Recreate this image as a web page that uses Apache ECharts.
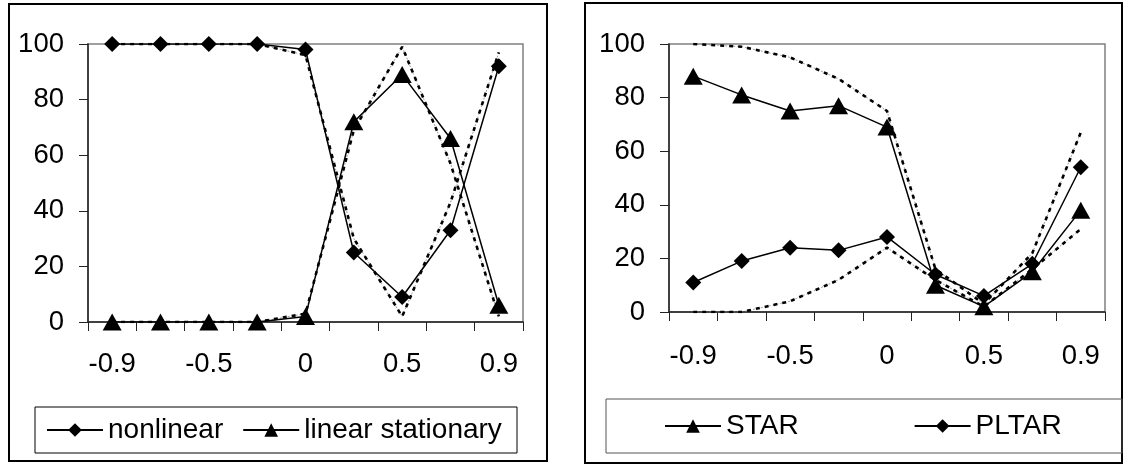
<!DOCTYPE html>
<html>
<head>
<meta charset="utf-8">
<script src="https://cdn.jsdelivr.net/npm/echarts@6/dist/echarts.min.js"></script>
<style>
  html, body { margin: 0; padding: 0; background: #fff; }
  #main { width: 1128px; height: 465px; }
</style>
</head>
<body>
<div id="main"></div>
<script>
// x categories (only every second one is labelled)
var categories = ['-0.9', '-0.7', '-0.5', '-0.3', '0', '0.3', '0.5', '0.7', '0.9']

// left panel
var nonlinear = [100, 100, 100, 100, 98, 25, 9, 33, 92]
var linearStationary = [0, 0, 0, 0, 2, 72, 89, 66, 6]
var nonlinearDotted = [100, 100, 100, 100, 96, 30, 2, 43, 97]
var linearDotted = [0, 0, 0, 0, 3, 69, 99, 57, 2]

// right panel
var star = [88, 81, 75, 77, 69, 10, 2, 15, 38]
var pltar = [11, 19, 24, 23, 28, 14, 6, 18, 54]
var starDotted = [100, 99, 95, 87, 75, 16, 3, 22, 67]
var pltarDotted = [0, 0, 4, 12, 24, 12, 2, 16, 31]

var yTicks = { min: 0, max: 100, interval: 20 }

var font = 'Liberation Sans, Arial, sans-serif'

function xAxis (idx, margin) {
  return {
    type: 'category',
    gridIndex: idx,
    data: categories,
    boundaryGap: true,
    axisLine: { show: true, lineStyle: { color: '#222', width: 1.5 } },
    axisTick: { show: true, interval: 0, length: 9, lineStyle: { color: '#222', width: 1 } },
    axisLabel: { interval: 1, margin: margin, fontSize: 27.5, fontFamily: font, color: '#000' },
    splitLine: { show: false }
  }
}

function yAxis (idx) {
  return {
    type: 'value',
    gridIndex: idx,
    min: yTicks.min,
    max: yTicks.max,
    interval: yTicks.interval,
    axisLine: { show: true, lineStyle: { color: '#222', width: 1.5 } },
    axisTick: { show: true, length: 9, lineStyle: { color: '#222', width: 1 } },
    axisLabel: { margin: 24, fontSize: 27.5, fontFamily: font, color: '#000' },
    splitLine: { show: false }
  }
}

function solid (name, idx, data, symbol) {
  return {
    name: name,
    type: 'line',
    xAxisIndex: idx,
    yAxisIndex: idx,
    data: data,
    symbol: symbol,
    symbolSize: symbol === 'diamond' ? 16 : [19, 17],
    showAllSymbol: true,
    lineStyle: { color: '#000', width: 1.5 },
    itemStyle: { color: '#000' },
    z: 5,
    animation: false
  }
}

function dotted (idx, data) {
  return [{
    type: 'line',
    xAxisIndex: idx,
    yAxisIndex: idx,
    data: data,
    symbol: 'none',
    silent: true,
    lineStyle: { color: '#888', width: 0.8, type: [2, 2] },
    z: 2,
    animation: false
  }, {
    type: 'line',
    xAxisIndex: idx,
    yAxisIndex: idx,
    data: data,
    symbol: 'none',
    silent: true,
    lineStyle: { color: '#000', width: 2.6, type: [4, 5] },
    z: 3,
    animation: false
  }]
}

function frame (x, y, w, h, color, width) {
  return { type: 'rect', shape: { x: x, y: y, width: w, height: h }, style: { fill: 'none', stroke: color, lineWidth: width }, silent: true }
}

var myChart = echarts.init(document.getElementById('main'))

myChart.setOption({
  backgroundColor: '#fff',
  animation: false,
  grid: [
    { left: 88, top: 44, width: 435, height: 278, show: true, borderColor: '#808080', borderWidth: 1.5 },
    { left: 669, top: 44, width: 436, height: 268, show: true, borderColor: '#808080', borderWidth: 1.5 }
  ],
  xAxis: [xAxis(0, 28), xAxis(1, 30)],
  yAxis: [yAxis(0), yAxis(1)],
  legend: [{
    data: ['nonlinear', 'linear stationary'],
    left: 46,
    top: 415,
    orient: 'horizontal',
    padding: 0,
    itemGap: 19,
    itemWidth: 56,
    itemHeight: 17,
    textStyle: { fontSize: 28, fontFamily: font, color: '#000', lineHeight: 30 }
  }, {
    data: ['STAR', 'PLTAR'],
    left: 664,
    top: 411,
    orient: 'horizontal',
    padding: 0,
    itemGap: 115,
    itemWidth: 56,
    itemHeight: 17,
    textStyle: { fontSize: 28, fontFamily: font, color: '#000', lineHeight: 30 }
  }],
  graphic: [
    frame(9, 4, 538, 457, '#000', 2),
    frame(585, 3, 537, 460, '#000', 2),
    frame(35, 407, 482, 46, '#000', 1),
    frame(606, 399, 516, 54, '#555', 1)
  ],
  series: [].concat(
    dotted(0, nonlinearDotted),
    dotted(0, linearDotted),
    [solid('nonlinear', 0, nonlinear, 'diamond'), solid('linear stationary', 0, linearStationary, 'triangle')],
    dotted(1, starDotted),
    dotted(1, pltarDotted),
    [solid('STAR', 1, star, 'triangle'), solid('PLTAR', 1, pltar, 'diamond')]
  )
})
</script>
</body>
</html>
